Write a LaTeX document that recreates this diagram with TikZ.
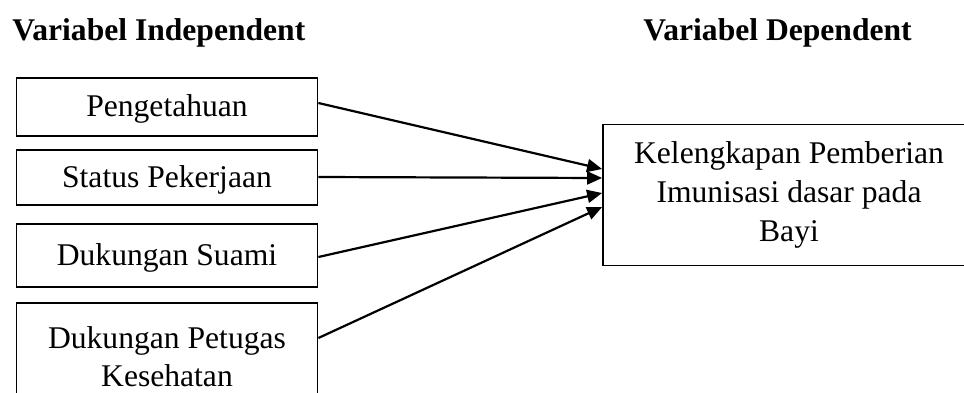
\documentclass[tikz,border=0pt]{standalone}
\usepackage{fontspec}
\setmainfont{Liberation Serif}
\usetikzlibrary{arrows.meta}
\begin{document}
\begin{tikzpicture}[x=0.5pt,y=-0.5pt,
  every node/.style={font=\fontsize{15.8}{19}\selectfont},
  varbox/.style={draw,line width=0.9pt,minimum width=150.5pt,inner sep=0pt,align=center},
  oneline/.style={text height=13pt,text depth=3.4pt},
  title/.style={font=\fontsize{15.8}{19}\selectfont\bfseries,anchor=base west,inner sep=0pt},
  conn/.style={line width=1.1pt,-{Triangle[length=7.5pt,width=6.5pt]}}]
\useasboundingbox (0,0) rectangle (964,392);
\node[title] (ti) at (12,40) {Variabel Independent};
\node[title] (td) at (643,40) {Variabel Dependent};
\node[varbox,oneline,minimum height=29pt] (b1) at (167,107) {Pengetahuan};
\node[varbox,oneline,minimum height=27.5pt] (b2) at (167,177.5) {Status Pekerjaan};
\node[varbox,oneline,minimum height=31.5pt] (b3) at (167,255.5) {Dukungan Suami};
\node[varbox,minimum height=54pt] (b4) at (167,357) {Dukungan Petugas\\Kesehatan};
\node[varbox,minimum width=186pt,minimum height=70.5pt,font=\fontsize{15.8}{19.5}\selectfont] (k) at (789,195) {Kelengkapan Pemberian\\Imunisasi dasar pada\\Bayi};
\draw[conn] ([yshift=2pt]b1.east) -- ([yshift=13pt]k.west);
\draw[conn] ([yshift=0.25pt]b2.east) -- ([yshift=8.5pt]k.west);
\draw[conn] ([yshift=-0.75pt]b3.east) -- ([yshift=1pt]k.west);
\draw[conn] ([yshift=9.5pt]b4.east) -- ([yshift=-6pt]k.west);
\end{tikzpicture}
\end{document}
